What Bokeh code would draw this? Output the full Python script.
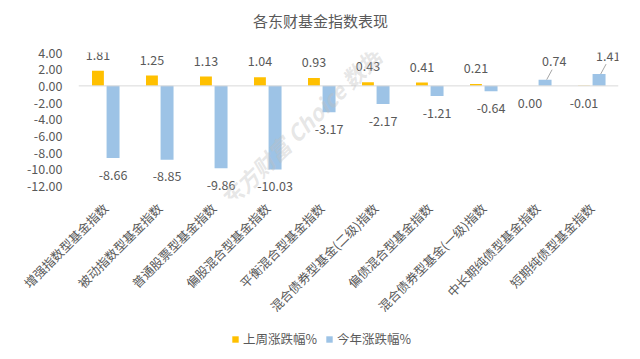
import math
from bokeh.plotting import figure
from bokeh.layouts import column
from bokeh.core.properties import value
from bokeh.models import (ColumnDataSource, FactorRange, FixedTicker, NumeralTickFormatter,
                          Span, LabelSet, Legend, LegendItem, Label)
from bokeh.transform import dodge
from bokeh.embed import file_html
from bokeh.resources import INLINE

title_text = "各东财基金指数表现"
categories = ["增强指数型基金指数", "被动指数型基金指数", "普通股票型基金指数", "偏股混合型基金指数",
              "平衡混合型基金指数", "混合债券型基金(二级)指数", "偏债混合型基金指数",
              "混合债券型基金(一级)指数", "中长期纯债型基金指数", "短期纯债型基金指数"]
week_change = [1.81, 1.25, 1.13, 1.04, 0.93, 0.43, 0.41, 0.21, 0.00, -0.01]
year_change = [-8.66, -8.85, -9.86, -10.03, -3.17, -2.17, -1.21, -0.64, 0.74, 1.41]
y_ticks = [-12, -10, -8, -6, -4, -2, 0, 2, 4]
series_names = ["上周涨跌幅%", "今年涨跌幅%"]

FONT = "Noto Sans CJK SC"
GRAY = "#595959"
YELLOW = "#FFC000"
BLUE = "#9DC3E6"
W = 624

def lab_y(v, up, down):
    return v + up if v > 0 else v - down

src = ColumnDataSource(dict(
    cat=categories,
    week=week_change,
    year=year_change,
    week_txt=["%.2f" % v for v in week_change],
    year_txt=["%.2f" % v for v in year_change],
    week_ly=[lab_y(v, 1.9, 2.0) for v in week_change],
    year_ly=[lab_y(v, 2.2, 2.0) for v in year_change],
    year_lx=[(c, 0.31 if v > 0 else 0.14) for c, v in zip(categories, year_change)],
))

def strip(height):
    f = figure(width=W, height=height, output_backend="svg", toolbar_location=None,
               min_border=0, x_range=(0, 540), y_range=(0, height))
    f.outline_line_color = None
    f.axis.visible = False
    f.grid.visible = False
    return f

# ---- title strip ----
ts = strip(36)
ts.add_layout(Label(x=242, y=16, text=title_text, text_font=FONT, text_font_size="15px",
                    text_color=GRAY, text_align="center", text_baseline="middle"))

# ---- main chart ----
p = figure(x_range=FactorRange(*categories, range_padding=0), y_range=(-13.5, 4),
           width=W, height=289, output_backend="svg", toolbar_location=None,
           min_border_left=78, min_border_right=6, min_border_top=16, min_border_bottom=126)
p.outline_line_color = None
p.border_fill_color = "white"
p.xgrid.visible = False
p.ygrid.visible = False

r1 = p.vbar(x=dodge("cat", -0.14, range=p.x_range), top="week", bottom=0, width=0.22,
            source=src, fill_color=YELLOW, line_color=None)
r2 = p.vbar(x=dodge("cat", 0.14, range=p.x_range), top="year", bottom=0, width=0.24,
            source=src, fill_color=BLUE, line_color=None)

p.add_layout(Span(location=0, dimension="width", line_color="#D9D9D9", line_width=1))

# leader lines for positive blue labels
pos_idx = [i for i, v in enumerate(year_change) if v > 0]
lsrc = ColumnDataSource(dict(
    x0=[(categories[i], 0.17) for i in pos_idx],
    y0=[year_change[i] for i in pos_idx],
    x1=[(categories[i], 0.27) for i in pos_idx],
    y1=[year_change[i] + 1.2 for i in pos_idx],
))
p.segment(x0="x0", y0="y0", x1="x1", y1="y1", source=lsrc, line_color="#A6A6A6", line_width=1)

common = dict(text_font=value(FONT), text_font_size="12.5px", text_color=GRAY,
              text_align="center", text_baseline="middle")
p.add_layout(LabelSet(x=dodge("cat", -0.14, range=p.x_range), y="week_ly", text="week_txt",
                      source=src, **common))
p.add_layout(LabelSet(x="year_lx", y="year_ly", text="year_txt", source=src, **common))

p.yaxis.ticker = FixedTicker(ticks=y_ticks)
p.yaxis.formatter = NumeralTickFormatter(format="0.00")
p.yaxis.axis_line_color = None
p.yaxis.major_tick_line_color = None
p.yaxis.minor_tick_line_color = None
p.yaxis.major_label_text_font = FONT
p.yaxis.major_label_text_font_size = "12.5px"
p.yaxis.major_label_text_color = GRAY
p.yaxis.major_label_standoff = 10

p.xaxis.axis_line_color = None
p.xaxis.major_tick_line_color = None
p.xaxis.minor_tick_line_color = None
p.xaxis.major_label_orientation = math.pi / 4
p.xaxis.major_label_text_font = FONT
p.xaxis.major_label_text_font_size = "12.5px"
p.xaxis.major_label_text_color = GRAY
p.xaxis.major_label_standoff = 1

# watermark
p.add_layout(Label(x=4.1, y=-5.0, text="东方财富 Choice 数据", angle=0.78,
                   text_font=FONT, text_font_size="22px", text_font_style="bold italic",
                   text_color="#BFBFBF", text_alpha=0.4,
                   text_align="center", text_baseline="middle"))

# ---- legend strip (proxy renderers sit outside the strip's visible range) ----
lg = strip(24)
lg.x_range.start, lg.x_range.end = 100, 101
lg.y_range.start, lg.y_range.end = 100, 101
d1 = lg.vbar(x="week", top="week", width=0.1, source=src, fill_color=YELLOW, line_color=None)
d2 = lg.vbar(x="year", top="year", width=0.1, source=src, fill_color=BLUE, line_color=None)
legend = Legend(items=[LegendItem(label=series_names[0], renderers=[d1]),
                       LegendItem(label=series_names[1], renderers=[d2])],
                orientation="horizontal", location=(153, 1),
                label_text_font=FONT, label_text_font_size="12.5px", label_text_color=GRAY,
                glyph_width=8, glyph_height=8, spacing=8, label_standoff=4,
                border_line_color=None, background_fill_alpha=0, margin=0, padding=2)
lg.add_layout(legend, "center")

layout = column(ts, p, lg, spacing=0)
open("out.html", "w").write(file_html(layout, INLINE))
